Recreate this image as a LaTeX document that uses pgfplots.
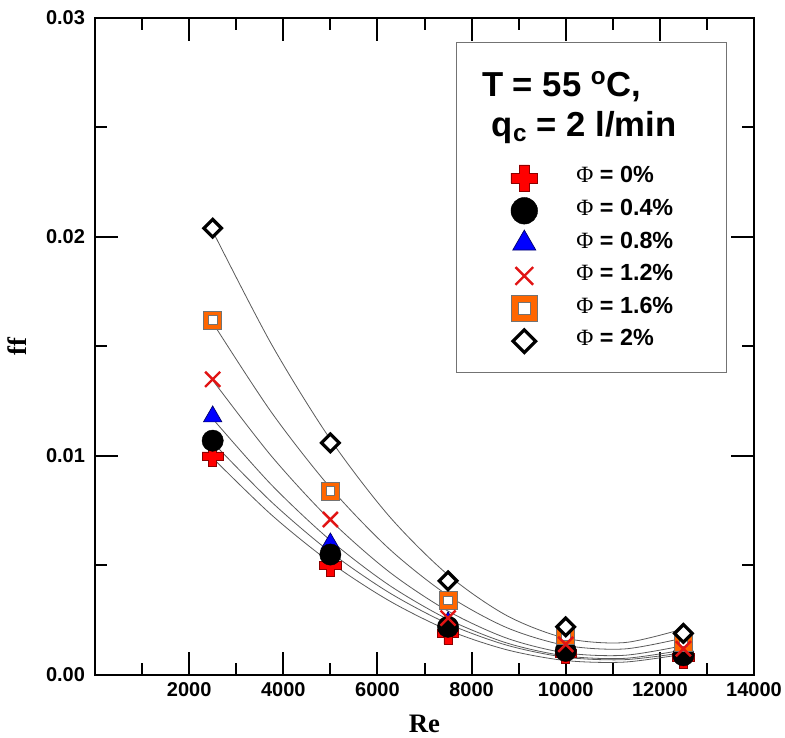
\documentclass[border=0pt]{standalone}
\usepackage{pgfplots}
\pgfplotsset{compat=1.18}
\usepackage{fontspec}
\setmainfont{Liberation Sans}
\newfontfamily\timesfont{Liberation Serif}
\usetikzlibrary{calc}

\definecolor{pred}{RGB}{255,0,0}
\definecolor{xred}{RGB}{225,20,20}
\definecolor{sqorange}{RGB}{255,102,0}
\definecolor{curvegray}{RGB}{90,90,90}

\pgfdeclareplotmark{fatplus}{%
 \pgfpathmoveto{\pgfpoint{-0.38\pgfplotmarksize}{\pgfplotmarksize}}%
 \pgfpathlineto{\pgfpoint{0.38\pgfplotmarksize}{\pgfplotmarksize}}%
 \pgfpathlineto{\pgfpoint{0.38\pgfplotmarksize}{0.38\pgfplotmarksize}}%
 \pgfpathlineto{\pgfpoint{\pgfplotmarksize}{0.38\pgfplotmarksize}}%
 \pgfpathlineto{\pgfpoint{\pgfplotmarksize}{-0.38\pgfplotmarksize}}%
 \pgfpathlineto{\pgfpoint{0.38\pgfplotmarksize}{-0.38\pgfplotmarksize}}%
 \pgfpathlineto{\pgfpoint{0.38\pgfplotmarksize}{-\pgfplotmarksize}}%
 \pgfpathlineto{\pgfpoint{-0.38\pgfplotmarksize}{-\pgfplotmarksize}}%
 \pgfpathlineto{\pgfpoint{-0.38\pgfplotmarksize}{-0.38\pgfplotmarksize}}%
 \pgfpathlineto{\pgfpoint{-\pgfplotmarksize}{-0.38\pgfplotmarksize}}%
 \pgfpathlineto{\pgfpoint{-\pgfplotmarksize}{0.38\pgfplotmarksize}}%
 \pgfpathlineto{\pgfpoint{-0.38\pgfplotmarksize}{0.38\pgfplotmarksize}}%
 \pgfpathclose
 \pgfusepathqfillstroke}

\pgfdeclareplotmark{osquare}{%
 \pgfsetlinewidth{0.6pt}%
 \pgfsetstrokecolor{black!55}%
 \pgfsetfillcolor{sqorange}%
 \pgfpathrectanglecorners{\pgfpoint{-\pgfplotmarksize}{-\pgfplotmarksize}}{\pgfpoint{\pgfplotmarksize}{\pgfplotmarksize}}%
 \pgfusepath{fill,stroke}%
 \pgfsetfillcolor{white}%
 \pgfpathrectanglecorners{\pgfpoint{-0.48\pgfplotmarksize}{-0.48\pgfplotmarksize}}{\pgfpoint{0.48\pgfplotmarksize}{0.48\pgfplotmarksize}}%
 \pgfusepath{fill,stroke}}

\pgfdeclareplotmark{dia}{%
 \pgfpathmoveto{\pgfpoint{0pt}{\pgfplotmarksize}}%
 \pgfpathlineto{\pgfpoint{\pgfplotmarksize}{0pt}}%
 \pgfpathlineto{\pgfpoint{0pt}{-\pgfplotmarksize}}%
 \pgfpathlineto{\pgfpoint{-\pgfplotmarksize}{0pt}}%
 \pgfpathclose
 \pgfusepathqfillstroke}

\pgfplotsset{
 s0/.style={only marks, mark=fatplus, mark size=8pt, mark options={fill=pred, draw=red!55!black, line width=0.5pt}},
 s1/.style={only marks, mark=*, mark size=8pt, mark options={fill=black, draw=black, line width=0.3pt}},
 s2/.style={only marks, mark=triangle*, mark size=8pt, mark options={fill=blue, draw=blue!40!black, line width=0.5pt}},
 s3/.style={only marks, mark=x, mark size=8pt, mark options={draw=xred, line width=1.8pt}},
 s4/.style={only marks, mark=osquare, mark size=6.8pt},
 s5/.style={only marks, mark=dia, mark size=6.6pt, mark options={draw=black, fill=white, line width=2.4pt, miter limit=4}},
 fit/.style={curvegray, line width=0.6pt, smooth, no marks, forget plot},
}

\begin{document}
\begin{tikzpicture}
\begin{axis}[
 width=494.25pt, height=492.75pt, scale only axis,
 xmin=0, xmax=14000, ymin=0, ymax=0.03,
 xtick={2000,4000,...,14000}, minor xtick={1000,3000,...,13000},
 ytick={0,0.01,0.02,0.03}, minor ytick={0.005,0.015,0.025},
 tick align=inside, tick pos=both,
 major tick length=17pt, minor tick length=9pt,
 tick style={black, line width=1.5pt},
 axis line style={line width=1.5pt},
 scaled y ticks=false, scaled x ticks=false,
 /pgf/number format/assume math mode=true,
 xticklabel style={/pgf/number format/set thousands separator={}, yshift=-2pt},
 yticklabel style={/pgf/number format/fixed, /pgf/number format/fixed zerofill, /pgf/number format/precision=2, xshift=-4pt},
 ticklabel style={font=\fontsize{15}{15}\selectfont\bfseries},
 xlabel={Re}, ylabel={ff},
 xlabel style={at={(axis description cs:0.5,-0.0875)}, anchor=base, inner sep=0pt, font=\timesfont\fontsize{20}{20}\selectfont\bfseries},
 ylabel style={at={(axis description cs:-0.1184,0.5)}, anchor=center, font=\timesfont\fontsize{20}{20}\selectfont\bfseries},
 legend cell align=left,
 legend style={at={(rel axis cs:0.631,0.781)}, anchor=north west, draw=none, fill=none,
   inner sep=0pt, outer sep=0pt, row sep=0pt,
   font=\fontsize{17.5}{17.5}\selectfont\bfseries,
   nodes={inner sep=0pt, text height=15.7pt, text depth=8.75pt},
   /tikz/every odd column/.append style={column sep=29pt}},
]
% fitted curves
\addplot[fit] coordinates {(2500,0.00991)(3750,0.00731)(5000,0.00514)(6250,0.00339)(7500,0.00205)(8750,0.00115)(10000,0.00066)(11250,0.00059)(12500,0.00095)};
\addplot[fit] coordinates {(2500,0.01062)(3750,0.00790)(5000,0.00561)(6250,0.00376)(7500,0.00234)(8750,0.00136)(10000,0.00081)(11250,0.00070)(12500,0.00102)};
\addplot[fit] coordinates {(2500,0.01170)(3750,0.00868)(5000,0.00615)(6250,0.00410)(7500,0.00254)(8750,0.00146)(10000,0.00087)(11250,0.00076)(12500,0.00114)};
\addplot[fit] coordinates {(2500,0.01346)(3750,0.00999)(5000,0.00707)(6250,0.00471)(7500,0.00292)(8750,0.00168)(10000,0.00101)(11250,0.00090)(12500,0.00134)};
\addplot[fit] coordinates {(2500,0.01609)(3750,0.01199)(5000,0.00855)(6250,0.00576)(7500,0.00363)(8750,0.00216)(10000,0.00135)(11250,0.00119)(12500,0.00169)};
\addplot[fit] coordinates {(2500,0.02027)(3750,0.01510)(5000,0.01076)(6250,0.00725)(7500,0.00457)(8750,0.00271)(10000,0.00168)(11250,0.00148)(12500,0.00211)};
% data
\addplot[s0, forget plot] coordinates {(2500,0.0100)(5000,0.0050)(7500,0.0019)(10000,0.0010)(12500,0.0008)};
\addplot[s2, forget plot] coordinates {(2500,0.0118)(5000,0.0060)(7500,0.0024)(10000,0.0012)(12500,0.0010)};
\addplot[s1, forget plot] coordinates {(2500,0.0107)(5000,0.0055)(7500,0.0022)(10000,0.0011)(12500,0.0009)};
\addplot[s4, forget plot] coordinates {(2500,0.0162)(5000,0.0084)(7500,0.0034)(10000,0.0018)(12500,0.0015)};
\addplot[s3, forget plot] coordinates {(2500,0.0135)(5000,0.0071)(7500,0.0026)(10000,0.0014)(12500,0.0012)};
\addplot[s5, forget plot] coordinates {(2500,0.0204)(5000,0.0106)(7500,0.0043)(10000,0.0022)(12500,0.0019)};
% legend
\addlegendimage{s0, mark size=10pt}
\addlegendentry{{\timesfont\mdseries Φ} = 0\%}
\addlegendimage{s1, mark size=10pt}
\addlegendentry{{\timesfont\mdseries Φ} = 0.4\%}
\addlegendimage{s2, mark size=10pt}
\addlegendentry{{\timesfont\mdseries Φ} = 0.8\%}
\addlegendimage{s3, mark size=9.4pt}
\addlegendentry{{\timesfont\mdseries Φ} = 1.2\%}
\addlegendimage{s4, mark size=9.8pt}
\addlegendentry{{\timesfont\mdseries Φ} = 1.6\%}
\addlegendimage{s5, mark size=8.5pt}
\addlegendentry{{\timesfont\mdseries Φ} = 2\%}
% legend frame and title
\draw[black!55, line width=0.75pt] (rel axis cs:0.549,0.461) rectangle (rel axis cs:0.959,0.963);
\node[anchor=base west, inner sep=0pt, font=\fontsize{26}{26}\selectfont\bfseries] at (rel axis cs:0.587,0.880) {T = 55 \textsuperscript{o}C,};
\node[anchor=base west, inner sep=0pt, font=\fontsize{26}{26}\selectfont\bfseries] at (rel axis cs:0.602,0.819) {q\textsubscript{c} = 2 l/min};
\end{axis}
\pgfresetboundingbox
\path[use as bounding box] ($(current axis.south west)+(-71.25pt,-47.25pt)$) rectangle ($(current axis.north east)+(23.25pt,13.5pt)$);
\end{tikzpicture}
\end{document}
